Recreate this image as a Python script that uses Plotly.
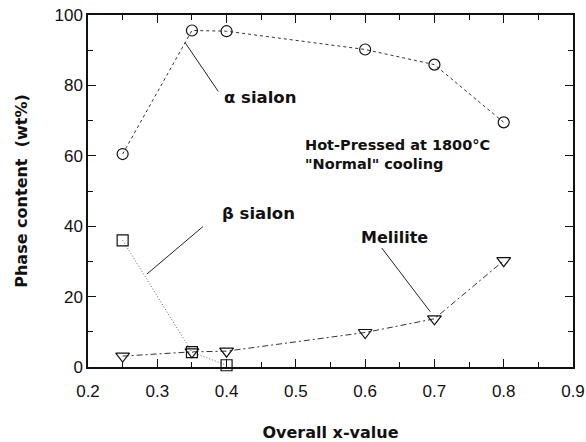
import plotly.graph_objects as go

# Phase content of hot-pressed sialon ceramics vs overall x-value
x_alpha = [0.25, 0.35, 0.40, 0.60, 0.70, 0.80]
alpha_sialon = [60.5, 95.6, 95.4, 90.2, 85.9, 69.5]

x_beta = [0.25, 0.35, 0.40]
beta_sialon = [36.0, 4.2, 0.5]

x_melilite = [0.25, 0.35, 0.40, 0.60, 0.70, 0.80]
melilite = [3.1, 4.3, 4.5, 9.8, 13.7, 30.2]

x_ticks = [0.2, 0.3, 0.4, 0.5, 0.6, 0.7, 0.8, 0.9]
y_ticks = [0, 20, 40, 60, 80, 100]

LINE = "#333333"
TXT = "#111111"
BOLD = "DejaVu Sans"

fig = go.Figure()

fig.add_trace(go.Scatter(
    x=x_alpha, y=alpha_sialon, mode="lines+markers", cliponaxis=False,
    line=dict(color=LINE, width=1, dash="3px,3px"),
    marker=dict(symbol="circle-open", size=11, color="#111111", line=dict(width=1.2)),
    showlegend=False))

fig.add_trace(go.Scatter(
    x=x_beta, y=beta_sialon, mode="lines+markers", cliponaxis=False,
    line=dict(color="#666666", width=1, dash="1px,2px"),
    marker=dict(symbol="square-open", size=11, color="#111111", line=dict(width=1.2)),
    showlegend=False))

fig.add_trace(go.Scatter(
    x=x_melilite, y=melilite, mode="lines+markers", cliponaxis=False,
    line=dict(color=LINE, width=1, dash="6px,3px,2px,3px"),
    marker=dict(symbol="triangle-down-open", size=12, color="#111111", line=dict(width=1.2)),
    showlegend=False))

# Leader lines from labels to their curves
leaders = [
    (0.340, 92.2, 0.388, 78.3),
    (0.366, 39.9, 0.285, 26.4),
    (0.624, 33.8, 0.694, 15.7),
]
for x0, y0, x1, y1 in leaders:
    fig.add_shape(type="line", xref="x", yref="y", x0=x0, y0=y0, x1=x1, y1=y1,
                  line=dict(color="#222222", width=1))

labels = [
    ("α sialon", 0.393, 76.5, 16.5),
    ("β sialon", 0.390, 43.5, 16.5),
]
for text, lx, ly, fs in labels:
    fig.add_annotation(x=lx, y=ly, text=text, showarrow=False, xanchor="left",
                       yanchor="middle", font=dict(family=BOLD, size=fs, color=TXT, weight="bold"))

fig.add_annotation(x=0.643, y=36.7, text="Melilite", showarrow=False, xanchor="center",
                   yanchor="middle", font=dict(family=BOLD, size=16, color=TXT, weight="bold"))

fig.add_annotation(x=0.510, y=60.3, text="Hot-Pressed at 1800°C<br>\"Normal\" cooling",
                   showarrow=False, xanchor="left", yanchor="middle", align="left",
                   font=dict(family=BOLD, size=14.5, color=TXT, weight="bold"))

axis_common = dict(
    showline=True, linecolor="#111111", linewidth=1.5, mirror="ticks",
    ticks="inside", ticklen=8, tickwidth=1.2, tickcolor="#111111",
    showgrid=False, zeroline=False, automargin=False,
    tickfont=dict(family="Liberation Sans", size=17, color=TXT),
)

fig.update_xaxes(
    range=[0.2, 0.9], tickvals=x_ticks, ticktext=[f"{v:.1f}" for v in x_ticks],
    ticklabelstandoff=8,
    minor=dict(ticks="inside", ticklen=5, tickwidth=1, tickcolor="#111111", dtick=0.05,
               tick0=0.2, showgrid=False),
    title=dict(text="Overall x-value", standoff=36,
               font=dict(family=BOLD, size=16, color=TXT, weight="bold")),
    **axis_common)

fig.update_yaxes(
    range=[0, 100], tickvals=y_ticks, ticktext=[str(v) for v in y_ticks],
    minor=dict(ticks="inside", ticklen=5, tickwidth=1, tickcolor="#111111", dtick=10,
               tick0=0, showgrid=False),
    title=dict(text="Phase content \u00a0(wt%)", standoff=23,
               font=dict(family=BOLD, size=16, color=TXT, weight="bold")),
    **axis_common)

fig.update_layout(
    width=586, height=442,
    margin=dict(l=88, r=13, t=15, b=75),
    paper_bgcolor="white", plot_bgcolor="white",
)

fig.write_html("out.html")
